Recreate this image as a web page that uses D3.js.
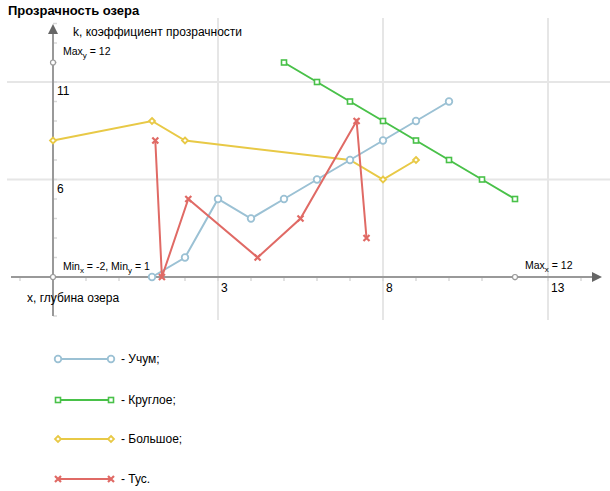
<!DOCTYPE html>
<html><head><meta charset="utf-8">
<script src="https://cdn.jsdelivr.net/npm/d3@7"></script>
<style>body{margin:0;background:#fff}svg{display:block;font-family:"Liberation Sans",Arial,sans-serif}</style>
</head><body>
<svg id="c" width="610" height="491"></svg>
<script>
const seriesNames = ["Учум", "Круглое", "Большое", "Тус"];
const legendLabels = ["- Учум;", "- Круглое;", "- Большое;", "- Тус."];
const uchumX = [1, 2, 3, 4, 5, 6, 7, 8, 9, 10];
const uchumY = [1, 2, 5, 4, 5, 6, 7, 8, 9, 10];
const krugloeX = [5, 6, 7, 8, 9, 10, 11, 12];
const krugloeY = [12, 11, 10, 9, 8, 7, 6, 5];
const bolshoeX = [-2, 1, 2, 7, 8, 9];
const bolshoeY = [8, 9, 8, 7, 6, 7];
const tusX = [1.1, 1.3, 2.1, 4.2, 5.5, 7.2, 7.5];
const tusY = [8, 1, 5, 2, 4, 9, 3];
const xGrid = [3, 8, 13];
const yGrid = [6, 11];
const xMinorTicks = d3.range(-3, 15);
const yMinorTicks = d3.range(-1, 15);
const minX = -2, maxX = 12, minY = 1, maxY = 12;

const colors = ["#9bc1d4", "#49c149", "#e8c946", "#e06a65"];
const markers = ["circle", "square", "diamond", "cross"];

const svg = d3.select("#c");
const x = d3.scaleLinear().domain([minX, maxX]).range([53, 515]);
const y = d3.scaleLinear().domain([minY, maxY]).range([277, 62.5]);

// grid
svg.append("g").selectAll("line").data(xGrid).join("line")
  .attr("x1", d => x(d)).attr("x2", d => x(d)).attr("y1", 18).attr("y2", 320)
  .attr("stroke", "#e6e6e6").attr("stroke-width", 2);
svg.append("g").selectAll("line").data(yGrid).join("line")
  .attr("x1", 7).attr("x2", 610).attr("y1", d => y(d)).attr("y2", d => y(d))
  .attr("stroke", "#e6e6e6").attr("stroke-width", 2);

// minor ticks
svg.append("g").selectAll("line").data(xMinorTicks).join("line")
  .attr("x1", d => x(d)).attr("x2", d => x(d)).attr("y1", y(minY)).attr("y2", y(minY) + 4)
  .attr("stroke", "#d8d8d8").attr("stroke-width", 1.5);
svg.append("g").selectAll("line").data(yMinorTicks).join("line")
  .attr("x1", x(minX)).attr("x2", x(minX) + 4).attr("y1", d => y(d)).attr("y2", d => y(d))
  .attr("stroke", "#d8d8d8").attr("stroke-width", 1.5);

// axes
svg.append("line").attr("x1", 11).attr("x2", 594).attr("y1", y(minY)).attr("y2", y(minY))
  .attr("stroke", "#999").attr("stroke-width", 2);
svg.append("line").attr("x1", x(minX)).attr("x2", x(minX)).attr("y1", 32).attr("y2", 316)
  .attr("stroke", "#999").attr("stroke-width", 2);
svg.append("path").attr("d", `M602,${y(minY)} L592,${y(minY)-5} L592,${y(minY)+5} Z`).attr("fill", "#666");
svg.append("path").attr("d", `M${x(minX)},24 L${x(minX)-5},34 L${x(minX)+5},34 Z`).attr("fill", "#666");

// tick labels
svg.append("g").selectAll("text").data(xGrid).join("text")
  .attr("x", d => x(d) + 3).attr("y", y(minY) + 15).attr("font-size", 12).attr("fill", "#000").text(d => d);
svg.append("g").selectAll("text").data(yGrid).join("text")
  .attr("x", x(minX) + 4).attr("y", d => y(d) + 13).attr("font-size", 12).attr("fill", "#000").text(d => d);

// min/max markers
[[x(minX), y(minY)], [x(maxX), y(minY)], [x(minX), y(maxY)]].forEach(p => {
  svg.append("circle").attr("cx", p[0]).attr("cy", p[1]).attr("r", 2.5)
    .attr("fill", "#fff").attr("stroke", "#999").attr("stroke-width", 1.2);
});
function subLabel(px, py, parts) {
  const t = svg.append("text").attr("x", px).attr("y", py).attr("font-size", 10.5).attr("fill", "#000");
  parts.forEach(p => {
    const s = t.append("tspan").text(p[0]);
    if (p[1]) s.attr("font-size", 8).attr("dy", 3); else if (p[2]) s.attr("dy", -3);
  });
}
subLabel(63, 55, [["Max"], ["y", 1], [" = 12", 0, 1]]);
subLabel(525, 269, [["Max"], ["x", 1], [" = 12", 0, 1]]);
subLabel(63, 270, [["Min"], ["x", 1], [" = -2, Min", 0, 1], ["y", 1], [" = 1", 0, 1]]);

// titles
svg.append("text").attr("x", 8).attr("y", 15).attr("font-size", 13).attr("font-weight", "bold").text("Прозрачность озера");
svg.append("text").attr("x", 73).attr("y", 36).attr("font-size", 12).text("k, коэффициент прозрачности");
svg.append("text").attr("x", 27).attr("y", 302).attr("font-size", 12).text("x, глубина озера");

function drawMarker(g, type, cx, cy, color) {
  if (type === "circle") {
    g.append("circle").attr("cx", cx).attr("cy", cy).attr("r", 3.3)
      .attr("fill", "#fff").attr("stroke", color).attr("stroke-width", 1.8);
  } else if (type === "square") {
    g.append("rect").attr("x", cx - 2.5).attr("y", cy - 2.5).attr("width", 5).attr("height", 5)
      .attr("fill", "#fff").attr("stroke", color).attr("stroke-width", 1.6);
  } else if (type === "diamond") {
    g.append("path").attr("d", `M${cx},${cy-3} L${cx+3},${cy} L${cx},${cy+3} L${cx-3},${cy} Z`)
      .attr("fill", "#fff").attr("stroke", color).attr("stroke-width", 1.8);
  } else {
    g.append("path").attr("d", `M${cx-3},${cy-3} L${cx+3},${cy+3} M${cx+3},${cy-3} L${cx-3},${cy+3}`)
      .attr("stroke", color).attr("stroke-width", 2.2);
  }
}

const data = [
  uchumX.map((v, i) => [v, uchumY[i]]),
  krugloeX.map((v, i) => [v, krugloeY[i]]),
  bolshoeX.map((v, i) => [v, bolshoeY[i]]),
  tusX.map((v, i) => [v, tusY[i]])
];
const line = d3.line().x(d => x(d[0])).y(d => y(d[1]));
const order = [2, 0, 1, 3];
order.forEach(i => {
  const g = svg.append("g");
  g.append("path").datum(data[i]).attr("d", line).attr("fill", "none")
    .attr("stroke", colors[i]).attr("stroke-width", 2);
  data[i].forEach(d => drawMarker(g, markers[i], x(d[0]), y(d[1]), colors[i]));
});

// legend
const legendY = [359, 400, 439, 479];
seriesNames.forEach((n, i) => {
  const g = svg.append("g");
  g.append("line").attr("x1", 58).attr("x2", 111).attr("y1", legendY[i]).attr("y2", legendY[i])
    .attr("stroke", colors[i]).attr("stroke-width", 2);
  drawMarker(g, markers[i], 58, legendY[i], colors[i]);
  drawMarker(g, markers[i], 111, legendY[i], colors[i]);
  g.append("text").attr("x", 121).attr("y", legendY[i] + 4).attr("font-size", 12).text(legendLabels[i]);
});
</script>
</body></html>
